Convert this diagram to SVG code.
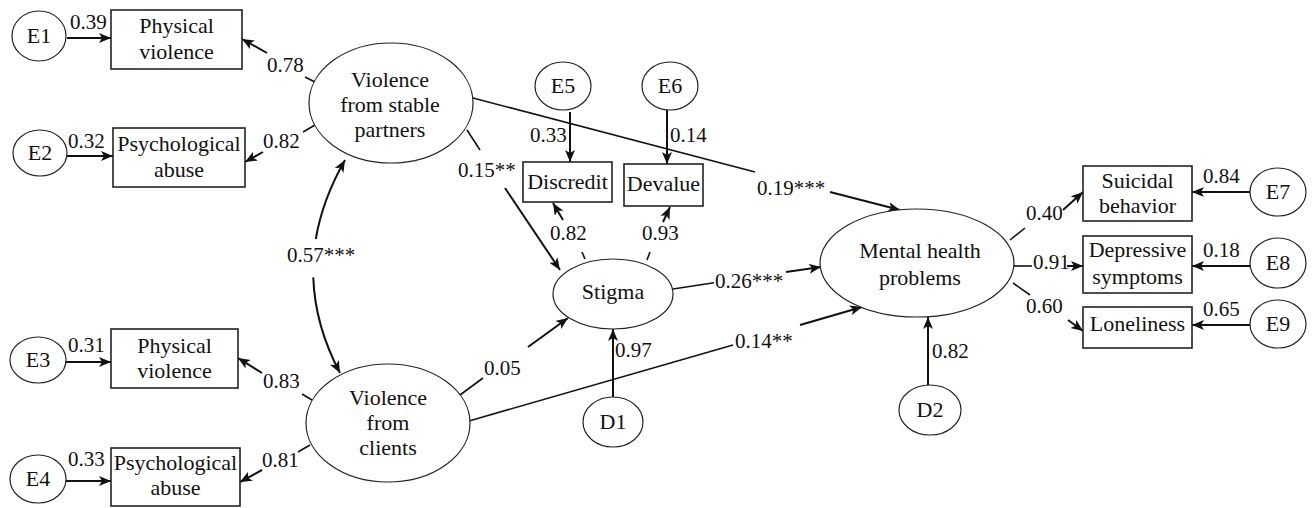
<svg xmlns="http://www.w3.org/2000/svg" width="1312" height="508" viewBox="0 0 1312 508">
<style>
text{font-family:"Liberation Serif","Times New Roman",Times,serif;fill:#111}
.n{font-size:22px;text-anchor:middle}
.l{font-size:21px}
.box{fill:#fff;stroke:#222;stroke-width:1.6}
.ell{fill:#fff;stroke:#222;stroke-width:1.2}
.a{fill:none;stroke:#111;stroke-width:2;marker-end:url(#ah)}
.t{fill:none;stroke:#111;stroke-width:1.6}
</style>
<defs>
<marker id="ah" markerUnits="userSpaceOnUse" markerWidth="14" markerHeight="12" refX="12" refY="5" orient="auto-start-reverse">
<path d="M0,0 L12,5 L0,10 L3,5 z" fill="#111"/>
</marker>
</defs>
<rect width="1312" height="508" fill="#fff"/>

<g id="connectors">
<path class="a" d="M67,38 L111,38"/>
<path class="a" d="M67,156 L113,156"/>
<path class="a" d="M66,362 L111,362"/>
<path class="a" d="M66,481 L111,481"/>
<path class="t" d="M315,82 L305,77"/><path class="a" d="M267,53 L242,39"/>
<path class="t" d="M315,125 L303,132"/><path class="a" d="M263,152 L245,162"/>
<path class="t" d="M312,400 L302,394"/><path class="a" d="M262,373 L238,358"/>
<path class="t" d="M310,445 L298,452"/><path class="a" d="M262,470 L240,482"/>
<path class="t" d="M467,130 L480,150"/><path class="a" d="M505,188 L560,270"/>
<path class="t" d="M473,98 L755,172"/><path class="a" d="M830,192 L900,210"/>
<path class="a" d="M570,112 L570,162"/>
<path class="a" d="M667,110 L667,164"/>
<path class="t" d="M585,259 L582,252"/><path class="a" d="M563,220 L553,203"/>
<path class="t" d="M647,260 L650,252"/><path class="a" d="M663,222 L670,207"/>
<path fill="none" stroke="#111" stroke-width="2" marker-start="url(#ah)" d="M345,160 Q322.4,199.6 315.8,239"/>
<path class="a" d="M313.3,277.4 Q314.8,325.3 340,373"/>
<path class="t" d="M460,395 L483,378"/><path class="a" d="M528,347 L568,318"/>
<path class="a" d="M613,397 L613,329"/>
<path class="t" d="M469,421 L733,345"/><path class="a" d="M800,325 L862,307"/>
<path class="t" d="M673,289 L714,282.8"/><path class="a" d="M786,272 L821,267"/>
<path class="a" d="M928,385 L928,317"/>
<path class="t" d="M1010,240 L1025,228"/><path class="a" d="M1063,210 L1083,192"/>
<path class="t" d="M1013,266 L1032,266"/><path class="a" d="M1067,266 L1083,266"/>
<path class="t" d="M1013,283 L1030,295"/><path class="a" d="M1068,320 L1083,331"/>
<path class="a" d="M1250,192 L1192,192"/>
<path class="a" d="M1250,266 L1192,266"/>
<path class="a" d="M1250,325 L1192,325"/>
</g>

<g id="labels">
<text class="l" x="70" y="29">0.39</text>
<text class="l" x="68" y="148">0.32</text>
<text class="l" x="68" y="352">0.31</text>
<text class="l" x="68" y="466">0.33</text>
<text class="l" x="267" y="72">0.78</text>
<text class="l" x="263" y="148">0.82</text>
<text class="l" x="263" y="388">0.83</text>
<text class="l" x="262" y="467">0.81</text>
<text class="l" x="458" y="177">0.15**</text>
<text class="l" x="757" y="195">0.19***</text>
<text class="l" x="530" y="142">0.33</text>
<text class="l" x="670" y="142">0.14</text>
<text class="l" x="550" y="240">0.82</text>
<text class="l" x="642" y="240">0.93</text>
<text class="l" x="287" y="262">0.57***</text>
<text class="l" x="484" y="375">0.05</text>
<text class="l" x="615" y="357">0.97</text>
<text class="l" x="735" y="348">0.14**</text>
<text class="l" x="715" y="288">0.26***</text>
<text class="l" x="932" y="358">0.82</text>
<text class="l" x="1026" y="220">0.40</text>
<text class="l" x="1033" y="269">0.91</text>
<text class="l" x="1026" y="313">0.60</text>
<text class="l" x="1203" y="183">0.84</text>
<text class="l" x="1203" y="257">0.18</text>
<text class="l" x="1203" y="316">0.65</text>
</g>

<g id="E1"><ellipse class="ell" cx="39" cy="36" rx="27" ry="25"/><text class="n" x="39" y="43">E1</text></g>
<g id="E2"><ellipse class="ell" cx="40" cy="153" rx="27" ry="23"/><text class="n" x="40" y="160">E2</text></g>
<g id="E3"><ellipse class="ell" cx="38" cy="360" rx="28" ry="23"/><text class="n" x="38" y="367">E3</text></g>
<g id="E4"><ellipse class="ell" cx="38" cy="479" rx="28" ry="24"/><text class="n" x="38" y="486">E4</text></g>

<g id="pv1"><rect class="box" x="111" y="10" width="131" height="59"/><text class="n" x="176.5" y="33">Physical</text><text class="n" x="176.5" y="59">violence</text></g>
<g id="pa1"><rect class="box" x="113" y="128" width="132" height="59"/><text class="n" x="179" y="151">Psychological</text><text class="n" x="179" y="177">abuse</text></g>
<g id="pv2"><rect class="box" x="111" y="329" width="127" height="59"/><text class="n" x="174.5" y="353">Physical</text><text class="n" x="174.5" y="378">violence</text></g>
<g id="pa2"><rect class="box" x="111" y="448" width="129" height="58"/><text class="n" x="175.5" y="470">Psychological</text><text class="n" x="175.5" y="495">abuse</text></g>

<g id="vsp"><ellipse class="ell" cx="391" cy="103" rx="82" ry="60"/><text class="n" x="390" y="87">Violence</text><text class="n" x="390" y="112">from stable</text><text class="n" x="390" y="137">partners</text></g>
<g id="vc"><ellipse class="ell" cx="388" cy="423" rx="82" ry="59"/><text class="n" x="388" y="405">Violence</text><text class="n" x="388" y="430">from</text><text class="n" x="388" y="455">clients</text></g>

<g id="E5"><ellipse class="ell" cx="563" cy="86" rx="28" ry="24"/><text class="n" x="563" y="93">E5</text></g>
<g id="E6"><ellipse class="ell" cx="670" cy="86" rx="28" ry="24"/><text class="n" x="670" y="93">E6</text></g>
<g id="discredit"><rect class="box" x="523" y="162" width="89" height="40"/><text class="n" x="567.5" y="189">Discredit</text></g>
<g id="devalue"><rect class="box" x="624" y="164" width="79" height="42"/><text class="n" x="663.5" y="191">Devalue</text></g>

<g id="stigma"><ellipse class="ell" cx="613" cy="294" rx="60" ry="35"/><text class="n" x="613" y="299">Stigma</text></g>
<g id="D1"><ellipse class="ell" cx="613" cy="422" rx="30" ry="25"/><text class="n" x="613" y="429">D1</text></g>

<g id="mhp"><ellipse class="ell" cx="917" cy="263" rx="97" ry="54"/><text class="n" x="920" y="258">Mental health</text><text class="n" x="920" y="285">problems</text></g>
<g id="D2"><ellipse class="ell" cx="930" cy="410" rx="31" ry="25"/><text class="n" x="930" y="417">D2</text></g>

<g id="suicidal"><rect class="box" x="1083" y="166" width="109" height="55"/><text class="n" x="1137.5" y="188">Suicidal</text><text class="n" x="1137.5" y="213">behavior</text></g>
<g id="depressive"><rect class="box" x="1083" y="236" width="109" height="57"/><text class="n" x="1137.5" y="257">Depressive</text><text class="n" x="1137.5" y="284">symptoms</text></g>
<g id="loneliness"><rect class="box" x="1083" y="307" width="109" height="41"/><text class="n" x="1137.5" y="331">Loneliness</text></g>

<g id="E7"><ellipse class="ell" cx="1278" cy="192" rx="28" ry="24"/><text class="n" x="1278" y="199">E7</text></g>
<g id="E8"><ellipse class="ell" cx="1278" cy="263" rx="28" ry="25"/><text class="n" x="1278" y="270">E8</text></g>
<g id="E9"><ellipse class="ell" cx="1278" cy="324" rx="28" ry="24"/><text class="n" x="1278" y="331">E9</text></g>
</svg>
